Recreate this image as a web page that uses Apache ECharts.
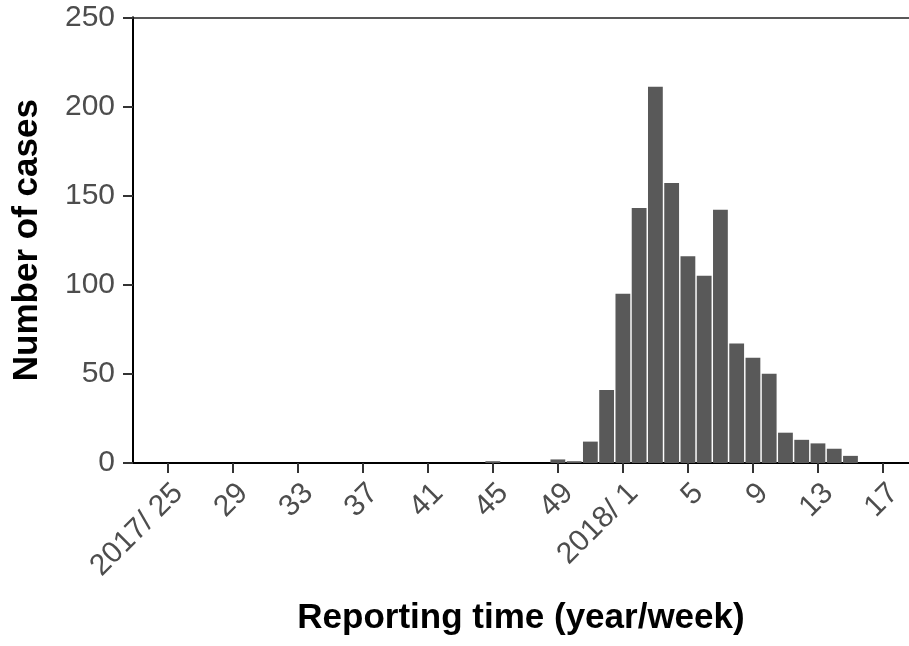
<!DOCTYPE html>
<html>
<head>
<meta charset="utf-8">
<script src="https://cdn.jsdelivr.net/npm/echarts@6/dist/echarts.min.js"></script>
<style>html,body{margin:0;padding:0;background:#fff;}#c{width:909px;height:646px;}</style>
</head>
<body>
<div id="c"></div>
<script>
// Weeks 2017/25 .. 2017/52 then 2018/1 .. 2018/17
const weeks2017 = [25,26,27,28,29,30,31,32,33,34,35,36,37,38,39,40,41,42,43,44,45,46,47,48,49,50,51,52];
const cases2017 = [0,0,0,0,0,0,0,0,0,0,0,0,0,0,0,0,0,0,0,0,1,0,0,0,2,1,12,41];
const weeks2018 = [1,2,3,4,5,6,7,8,9,10,11,12,13,14,15,16,17];
const cases2018 = [95,143,211,157,116,105,142,67,59,50,17,13,11,8,4,0,0];
const tickWeeks = ["2017/ 25","29","33","37","41","45","49","2018/ 1","5","9","13","17"];
const yTicks = [0,50,100,150,200,250];

const weekLabels = weeks2017.map(w => "2017/" + w).concat(weeks2018.map(w => "2018/" + w));
const values = cases2017.concat(cases2018);
const seriesData = values.map((v, i) => [i, v]);
const tickIdx = tickWeeks.map((t, k) => k * 4);
const labelMap = {};
tickIdx.forEach((ix, k) => { labelMap[ix] = tickWeeks[k]; });

const chart = echarts.init(document.getElementById('c'), null, {renderer: 'canvas'});
const FONT = 'Liberation Sans, Arial, sans-serif';
chart.setOption({
  animation: false,
  backgroundColor: '#ffffff',
  grid: {left: 133, right: 0, top: 17.3, bottom: 183, containLabel: false},
  xAxis: [{
    type: 'value',
    min: -2.134,
    max: 45.6,
    splitLine: {show: false},
    axisLine: {show: true, onZero: false, lineStyle: {color: '#000', width: 2}},
    axisTick: {show: true, customValues: tickIdx, length: 10, lineStyle: {color: '#333', width: 2}},
    axisLabel: {
      show: true, customValues: tickIdx, rotate: 45, margin: 15,
      verticalAlign: 'top',
      fontSize: 30, color: '#4d4d4d', fontFamily: FONT,
      formatter: v => labelMap[Math.round(v)] || ''
    },
    name: 'Reporting time (year/week)',
    nameLocation: 'middle',
    nameGap: 138,
    nameTextStyle: {fontSize: 35, fontWeight: 'bold', color: '#000', fontFamily: FONT}
  }, {
    type: 'value', position: 'top', min: 0, max: 1,
    axisLine: {show: true, onZero: false, lineStyle: {color: '#222', width: 1.5}},
    axisTick: {show: false}, axisLabel: {show: false}, splitLine: {show: false}
  }],
  yAxis: {
    type: 'value', min: 0, max: 250, interval: 50,
    splitLine: {show: false},
    axisLine: {show: true, onZero: false, lineStyle: {color: '#000', width: 2}},
    axisTick: {show: true, length: 10, lineStyle: {color: '#333', width: 2}},
    axisLabel: {fontSize: 30, color: '#4d4d4d', margin: 18, fontFamily: FONT},
    name: 'Number of cases',
    nameLocation: 'middle',
    nameRotate: 90,
    nameGap: 88,
    nameTextStyle: {fontSize: 35, fontWeight: 'bold', color: '#000', fontFamily: FONT}
  },
  series: [{
    type: 'bar',
    xAxisIndex: 0,
    data: seriesData,
    barWidth: 14.8,
    itemStyle: {color: '#595959'},
    tooltip: {formatter: p => weekLabels[p.dataIndex] + ': ' + p.value[1]}
  }]
});
</script>
</body>
</html>
